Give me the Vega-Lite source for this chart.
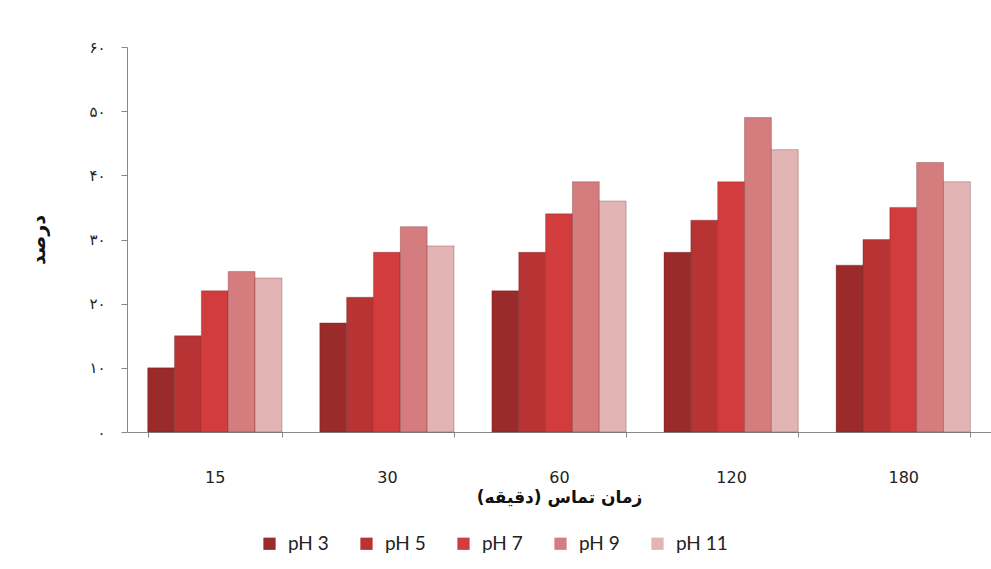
{
  "$schema": "https://vega.github.io/schema/vega-lite/v6.json",
  "autosize": {"type": "none"},
  "width": 864,
  "height": 385,
  "padding": {"left": 127, "top": 47, "right": 0, "bottom": 137},
  "background": "white",
  "data": {"values": [
    {"t": "15", "ph": "pH 3", "v": 10}, {"t": "15", "ph": "pH 5", "v": 15}, {"t": "15", "ph": "pH 7", "v": 22}, {"t": "15", "ph": "pH 9", "v": 25}, {"t": "15", "ph": "pH 11", "v": 24},
    {"t": "30", "ph": "pH 3", "v": 17}, {"t": "30", "ph": "pH 5", "v": 21}, {"t": "30", "ph": "pH 7", "v": 28}, {"t": "30", "ph": "pH 9", "v": 32}, {"t": "30", "ph": "pH 11", "v": 29},
    {"t": "60", "ph": "pH 3", "v": 22}, {"t": "60", "ph": "pH 5", "v": 28}, {"t": "60", "ph": "pH 7", "v": 34}, {"t": "60", "ph": "pH 9", "v": 39}, {"t": "60", "ph": "pH 11", "v": 36},
    {"t": "120", "ph": "pH 3", "v": 28}, {"t": "120", "ph": "pH 5", "v": 33}, {"t": "120", "ph": "pH 7", "v": 39}, {"t": "120", "ph": "pH 9", "v": 49}, {"t": "120", "ph": "pH 11", "v": 44},
    {"t": "180", "ph": "pH 3", "v": 26}, {"t": "180", "ph": "pH 5", "v": 30}, {"t": "180", "ph": "pH 7", "v": 35}, {"t": "180", "ph": "pH 9", "v": 42}, {"t": "180", "ph": "pH 11", "v": 39}
  ]},
  "mark": {"type": "bar", "stroke": "#5a1a1a", "strokeWidth": 0.6, "strokeOpacity": 0.5},
  "encoding": {
    "x": {
      "field": "t", "type": "nominal", "sort": ["15", "30", "60", "120", "180"],
      "scale": {"paddingInner": 0.22, "paddingOuter": 0.12},
      "axis": {
        "title": "زمان تماس (دقیقه)", "labelAngle": 0, "tickBand": "extent",
        "domainColor": "#888888", "tickColor": "#888888", "tickSize": 5,
        "labelFont": "DejaVu Sans", "labelFontSize": 16, "labelColor": "#222222", "labelPadding": 32,
        "titleFont": "DejaVu Sans", "titleFontSize": 17, "titleFontWeight": "bold", "titleColor": "#111111", "titlePadding": 4
      }
    },
    "xOffset": {"field": "ph", "type": "nominal", "sort": ["pH 3", "pH 5", "pH 7", "pH 9", "pH 11"], "scale": {"paddingInner": 0, "paddingOuter": 0}},
    "y": {
      "field": "v", "type": "quantitative",
      "scale": {"domain": [0, 60], "nice": false},
      "axis": {
        "title": "درصد", "values": [0, 10, 20, 30, 40, 50, 60], "grid": false,
        "labelExpr": "datum.value == 0 ? '۰' : datum.value == 10 ? '۱۰' : datum.value == 20 ? '۲۰' : datum.value == 30 ? '۳۰' : datum.value == 40 ? '۴۰' : datum.value == 50 ? '۵۰' : '۶۰'",
        "domainColor": "#888888", "tickColor": "#888888", "tickSize": 6,
        "labelFont": "DejaVu Sans", "labelFontSize": 15, "labelColor": "#222222", "labelPadding": 16,
        "titleFont": "DejaVu Sans", "titleFontSize": 19, "titleFontWeight": "bold", "titleColor": "#111111", "titlePadding": 40
      }
    },
    "color": {
      "field": "ph", "type": "nominal", "sort": ["pH 3", "pH 5", "pH 7", "pH 9", "pH 11"],
      "scale": {"domain": ["pH 3", "pH 5", "pH 7", "pH 9", "pH 11"], "range": ["#9b2a2a", "#b83333", "#d23c3c", "#d47c7e", "#e3b4b4"]},
      "legend": {
        "title": null, "orient": "none", "direction": "horizontal", "legendX": 133, "legendY": 487,
        "symbolType": "square", "symbolSize": 150, "symbolStrokeWidth": 0,
        "labelFont": "Lato", "labelFontSize": 19, "labelColor": "#222222", "columnPadding": 28, "labelOffset": 9
      }
    }
  },
  "config": {"view": {"stroke": null}}
}
